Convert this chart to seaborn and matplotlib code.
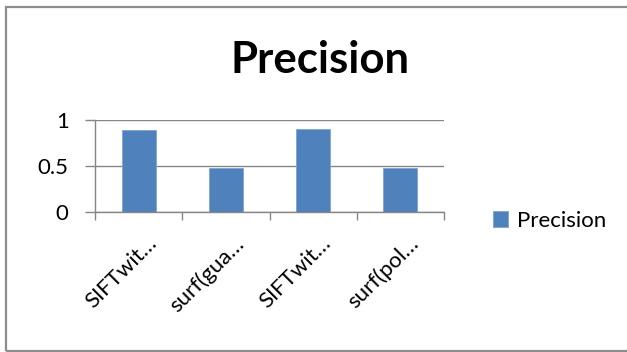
import matplotlib
matplotlib.use("Agg")
import matplotlib.pyplot as plt
from matplotlib.patches import Rectangle
from matplotlib.ticker import FixedLocator
from matplotlib.transforms import ScaledTranslation
import pandas as pd
import seaborn as sns

# Chart data
categories = ["SIFTwit…", "surf(gua…", "SIFTwit…", "surf(pol…"]
precision = [0.89, 0.47, 0.90, 0.47]
series_name = "Precision"
yticks = [0, 0.5, 1]
ytick_labels = ["0", "0.5", "1"]

df = pd.DataFrame({
    "pos": list(range(len(categories))),
    "value": precision,
    "series": [series_name] * len(categories),
})

sns.set_theme(style="white")
plt.rcParams["font.family"] = ["Lato", "DejaVu Sans"]
plt.rcParams["text.color"] = "black"
plt.rcParams["xtick.color"] = "black"
plt.rcParams["ytick.color"] = "black"

grid_col = "#868686"
bar_col = "#4F81BD"
label_size = 16

fig = plt.figure(figsize=(6.27, 3.52), dpi=100)
ax = fig.add_axes([95 / 627, 1 - 211.7 / 352, (444 - 95) / 627, (211.7 - 119.5) / 352])

sns.barplot(data=df, x="pos", y="value", hue="series", palette=[bar_col],
            width=0.39, ax=ax, saturation=1, edgecolor="#7FA3D3", linewidth=0.6)

ax.set_xlim(-0.5, len(categories) - 0.5)
ax.set_ylim(0, 1)
ax.set_xlabel("")
ax.set_ylabel("")

# Y axis: gridlines and outward ticks
ax.set_yticks(yticks)
ax.set_yticklabels(ytick_labels, fontsize=label_size)
ax.yaxis.grid(True, color=grid_col, linewidth=1)
ax.set_axisbelow(True)
ax.tick_params(axis="y", which="major", left=True, length=7, width=1,
               color=grid_col, pad=12, labelcolor="black")

# X axis: labels at centres, tick marks at category boundaries
ax.set_xticks(range(len(categories)))
ax.set_xticklabels(categories, fontsize=label_size, rotation=45, ha="right",
                   rotation_mode="anchor")
ax.tick_params(axis="x", which="major", bottom=True, length=0, pad=15.5,
               labelcolor="black")
shift = ScaledTranslation(0.08, 0, fig.dpi_scale_trans)
for lab in ax.get_xticklabels():
    lab.set_transform(lab.get_transform() + shift)
bounds = [i - 0.5 for i in range(len(categories) + 1)]
ax.xaxis.set_minor_locator(FixedLocator(bounds))
ax.tick_params(axis="x", which="minor", bottom=True, length=6, width=1, color=grid_col)

for side in ["top", "right"]:
    ax.spines[side].set_visible(False)
for side in ["left", "bottom"]:
    ax.spines[side].set_color(grid_col)
    ax.spines[side].set_linewidth(1)

# Legend on the right
leg = ax.legend(loc="center left", bbox_to_anchor=(484 / 627, 1 - 221 / 352),
                bbox_transform=fig.transFigure, frameon=False, fontsize=label_size,
                handlelength=0.7, handleheight=0.7, handletextpad=0.4,
                borderaxespad=0)

# Title
fig.text(320 / 627, 1 - 73 / 352, "Precision", fontsize=31.5, fontweight="bold",
         ha="center", va="baseline", color="black")

# Chart frame
fig.patches.append(Rectangle((6 / 627, 1 / 352), 1.0, (351 - 7) / 352,
                             transform=fig.transFigure, fill=False,
                             edgecolor="#8C8C8C", linewidth=1.6))

fig.savefig("out.png", dpi=100)
